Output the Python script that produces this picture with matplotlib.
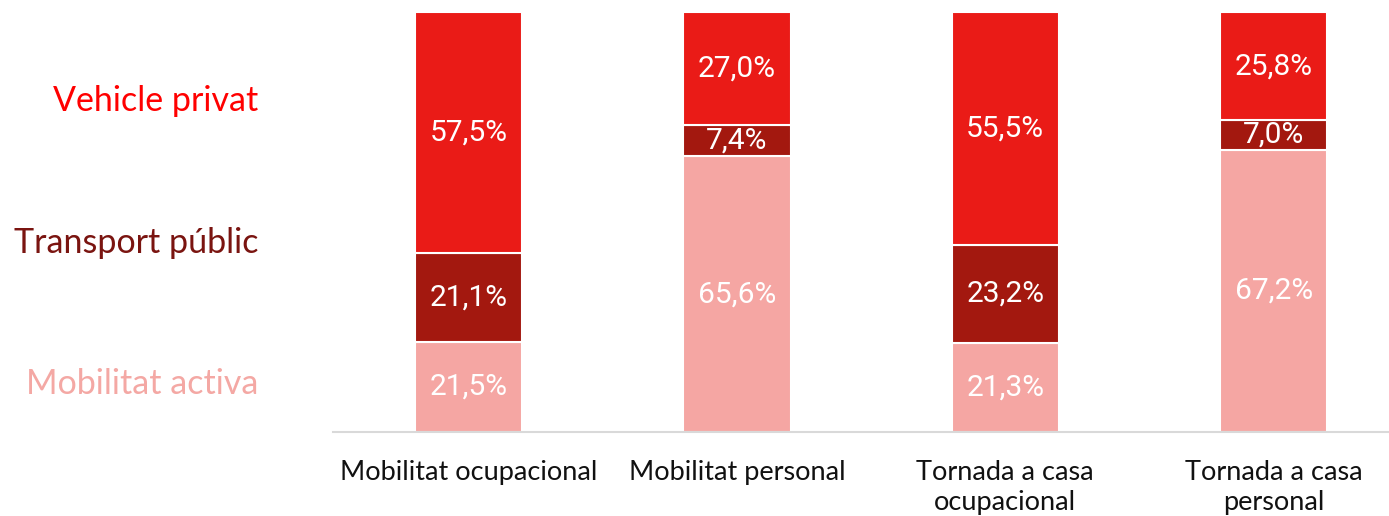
import numpy as np
import matplotlib.pyplot as plt

categories = ["Mobilitat ocupacional", "Mobilitat personal",
              "Tornada a casa\nocupacional", "Tornada a casa\npersonal"]
series = ["Mobilitat activa", "Transport públic", "Vehicle privat"]
mobilitat_activa = [21.5, 65.6, 21.3, 67.2]
transport_public = [21.1, 7.4, 23.2, 7.0]
vehicle_privat = [57.5, 27.0, 55.5, 25.8]

bar_colors = ["#F5A6A3", "#A3180F", "#EA1B17"]
text_colors = ["#F4A8A4", "#7A1410", "#FF0000"]

fig = plt.figure(figsize=(13.89, 5.16), dpi=100)
ax = fig.add_axes([333 / 1389, 1 - 432 / 516, 1 - 333 / 1389, 420 / 516])

x = np.arange(len(categories))
bottom = np.zeros(len(categories))
for vals, col in zip([mobilitat_activa, transport_public, vehicle_privat], bar_colors):
    vals = np.array(vals)
    bars = ax.bar(x, vals, width=0.4, bottom=bottom, color=col,
                  edgecolor="white", linewidth=1.5, zorder=2)
    for b, v, y0 in zip(bars, vals, bottom):
        lbl = f"{v:.1f}%".replace(".", ",")
        ax.text(b.get_x() + b.get_width() / 2, y0 + v / 2, lbl,
                ha="center", va="center", color="white",
                fontsize=21.5, family="Roboto", zorder=3)
    bottom += vals

ax.set_xlim(-0.505, 3.43)
ax.set_ylim(0, 100)
for s in ["top", "right", "left"]:
    ax.spines[s].set_visible(False)
ax.spines["bottom"].set_color("#D9D9D9")
ax.spines["bottom"].set_linewidth(1.5)
ax.set_yticks([])
ax.set_xticks(x)
ax.set_xticklabels(categories, fontsize=19.5, family="Lato", color="#111111",
                   linespacing=1.25)
ax.tick_params(axis="x", length=0, pad=20)

# etiquetes de la llegenda a l'esquerra
legend_y = [384, 243, 101]
for name, col, py in zip(series, text_colors, legend_y):
    fig.text(258 / 1389, 1 - py / 516, name, ha="right", va="center",
             color=col, fontsize=24.5, family="Lato")

fig.savefig("out.png", dpi=100)
